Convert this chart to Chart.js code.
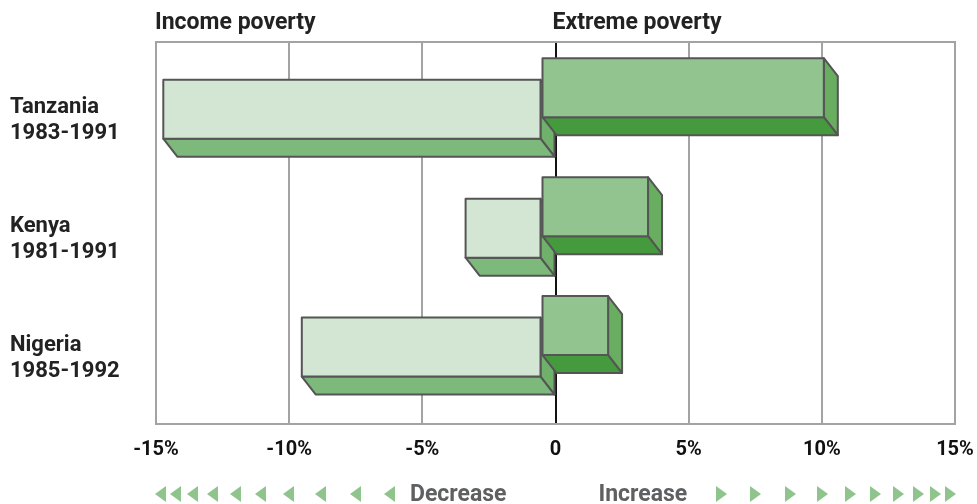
<!DOCTYPE html>
<html>
<head>
<meta charset="utf-8">
<script src="https://cdn.jsdelivr.net/npm/chart.js@4"></script>
<style>
  html, body { margin: 0; padding: 0; background: #fff; }
  #wrap { width: 977px; height: 504px; }
</style>
</head>
<body>
<div id="wrap"><canvas id="povertyChart"></canvas></div>
<script>
// data (change in poverty, %)
const countries = ['Tanzania', 'Kenya', 'Nigeria'];
const periods = ['1983-1991', '1981-1991', '1985-1992'];
const seriesNames = ['Income poverty', 'Extreme poverty'];
const incomePoverty = [-14.2, -2.85, -9.0];
const extremePoverty = [10.6, 4.0, 2.5];
const xTicks = [-15, -10, -5, 0, 5, 10, 15];

const FONT = 'Roboto, "Liberation Sans", sans-serif';
const GRID = '#a3a3a3';

// polygon helper
function poly(ctx, pts, fill) {
	ctx.beginPath();
	ctx.moveTo(pts[0][0], pts[0][1]);
	for (let i = 1; i < pts.length; i++) ctx.lineTo(pts[i][0], pts[i][1]);
	ctx.closePath();
	ctx.fillStyle = fill;
	ctx.fill();
	ctx.stroke();
}

// back face sits on the scale, front face is pushed up-left
function drawBox(ctx, x0, x1, y0, y1, c) {
	const dx = 14, dy = 18;
	const fx0 = x0 - dx, fx1 = x1 - dx, fy0 = y0 - dy, fy1 = y1 - dy;
	ctx.lineWidth = 2;
	ctx.strokeStyle = '#555555';
	ctx.lineJoin = 'round';
	poly(ctx, [[fx1, fy0], [x1, y0], [x1, y1], [fx1, fy1]], c.side);
	poly(ctx, [[fx0, fy1], [fx1, fy1], [x1, y1], [x0, y1]], c.bottom);
	poly(ctx, [[fx0, fy0], [fx1, fy0], [fx1, fy1], [fx0, fy1]], c.front);
}

const box3d = {
	id: 'box3d',
	beforeDatasetsDraw(chart) {
		const { ctx, chartArea: a } = chart;
		ctx.save();
		// top edge of the frame
		ctx.strokeStyle = GRID;
		ctx.lineWidth = 2;
		ctx.beginPath();
		ctx.moveTo(a.left - 1, a.top);
		ctx.lineTo(a.right + 1, a.top);
		ctx.stroke();

		chart.data.datasets.forEach((ds, di) => {
			const meta = chart.getDatasetMeta(di);
			meta.data.forEach((bar) => {
				const p = bar.getProps(['x', 'y', 'base', 'height'], true);
				const x0 = Math.min(p.x, p.base), x1 = Math.max(p.x, p.base);
				const y0 = p.y + ds.shift - p.height / 2;
				drawBox(ctx, x0, x1, y0, y0 + p.height, ds.faces);
			});
		});
		ctx.restore();
		return false;
	},
	afterDraw(chart) {
		const { ctx, chartArea: a } = chart;
		const zero = chart.scales.x.getPixelForValue(0);
		ctx.save();
		// series titles above the frame
		ctx.fillStyle = '#222222';
		ctx.font = 'bold 23px ' + FONT;
		ctx.textBaseline = 'middle';
		ctx.textAlign = 'left';
		ctx.fillText(chart.data.datasets[0].label, a.left - 1, 23);
		ctx.fillText(chart.data.datasets[1].label, zero - 3, 23);

		// decrease / increase arrows
		const yMid = 495;
		ctx.fillStyle = '#5f6062';
		ctx.font = 'bold 23px ' + FONT;
		ctx.textAlign = 'right';
		ctx.fillText('Decrease', zero - 49, yMid);
		ctx.textAlign = 'left';
		ctx.fillText('Increase', zero + 43, yMid);

		const gaps = [166, 200, 235, 267, 295, 320, 343, 363, 380, 395];
		ctx.fillStyle = '#8fc48d';
		gaps.forEach((g) => {
			// left pointing
			let cx = zero - g;
			ctx.beginPath();
			ctx.moveTo(cx - 5.5, yMid - 1);
			ctx.lineTo(cx + 5.5, yMid - 9);
			ctx.lineTo(cx + 5.5, yMid + 7);
			ctx.closePath();
			ctx.fill();
			// right pointing
			cx = zero + g;
			ctx.beginPath();
			ctx.moveTo(cx + 5.5, yMid - 1);
			ctx.lineTo(cx - 5.5, yMid - 9);
			ctx.lineTo(cx - 5.5, yMid + 7);
			ctx.closePath();
			ctx.fill();
		});
		ctx.restore();
	},
};

const ctx = document.getElementById('povertyChart').getContext('2d');
const povertyChart = new Chart(ctx, {
	type: 'bar',
	data: {
		datasets: [
			{
				label: seriesNames[0],
				data: incomePoverty.map((v, i) => ({ x: v, y: i })),
				backgroundColor: '#d3e6d3',
				shift: 10.75,
				faces: { front: '#d3e6d3', bottom: '#7cb97a', side: '#6fb06a' },
			},
			{
				label: seriesNames[1],
				data: extremePoverty.map((v, i) => ({ x: v, y: i })),
				backgroundColor: '#92c490',
				shift: -10.75,
				faces: { front: '#92c490', bottom: '#449a3c', side: '#68ad60' },
			},
		],
	},
	options: {
		indexAxis: 'y',
		responsive: true,
		maintainAspectRatio: false,
		animation: false,
		devicePixelRatio: 1,
		grouped: false,
		maxBarThickness: 59,
		layout: { padding: { left: 10, right: 22, top: 42, bottom: 0 } },
		plugins: {
			legend: { display: false },
			tooltip: { enabled: false },
		},
		scales: {
			x: {
				type: 'linear',
				min: -15,
				max: 15,
				afterBuildTicks: (s) => {
					s.ticks = xTicks.map((v) => ({ value: v }));
				},
				afterFit: (s) => {
					s.height = 80;
					s.paddingLeft = 0;
					s.paddingRight = 0;
				},
				ticks: {
					callback: (v) => (v === 0 ? '0' : v + '%'),
					font: { family: FONT, size: 20, weight: 'bold' },
					color: '#111111',
					padding: 14,
					maxRotation: 0,
				},
				grid: {
					color: (c) => (c.tick && c.tick.value === 0 ? '#111111' : GRID),
					lineWidth: 2,
					drawTicks: false,
				},
				border: { display: true, color: GRID, width: 2 },
			},
			y: {
				type: 'linear',
				reverse: true,
				offset: false,
				min: -0.626,
				max: 2.586,
				afterBuildTicks: (s) => {
					s.ticks = countries.map((c, i) => ({ value: i }));
				},
				afterFit: (s) => {
					s.width = 146;
				},
				ticks: {
					callback: (v) => [countries[v], periods[v]],
					crossAlign: 'far',
					labelOffset: 4,
					font: { family: FONT, size: 22, weight: 'bold', lineHeight: 1.2 },
					color: '#222222',
					padding: 0,
				},
				grid: { display: false, offset: false },
				border: { display: false },
			},
		},
	},
	plugins: [box3d],
});
</script>
</body>
</html>
